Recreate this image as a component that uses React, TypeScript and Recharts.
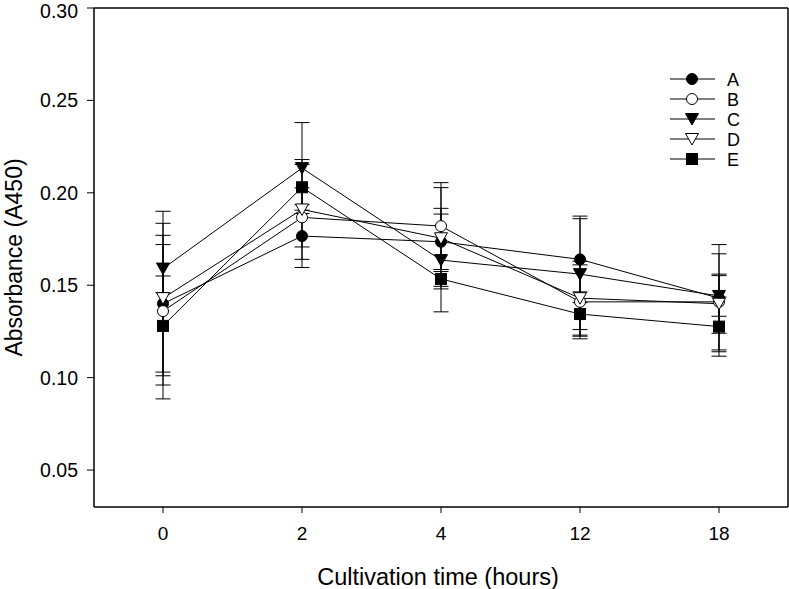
import React from 'react';
import { LineChart, Line, XAxis, YAxis, ErrorBar, Label } from 'recharts';

const times = ['0', '2', '4', '12', '18'];
const seriesA = [0.140, 0.1766, 0.1735, 0.164, 0.143];
const seriesB = [0.136, 0.1867, 0.182, 0.141, 0.141];
const seriesC = [0.159, 0.2134, 0.1636, 0.156, 0.1442];
const seriesD = [0.143, 0.191, 0.1754, 0.143, 0.140];
const seriesE = [0.128, 0.203, 0.1534, 0.1344, 0.1276];
const errA = [0.037, 0.017, 0.015, 0.0234, 0.029];
const errB = [0.0475, 0.016, 0.0235, 0.020, 0.026];
const errC = [0.013, 0.0246, 0.028, 0.030, 0.011];
const errD = [0.047, 0.027, 0.0274, 0.020, 0.016];
const errE = [0.027, 0.0124, 0.004, 0.012, 0.016];
const yTicks = [0.05, 0.10, 0.15, 0.20, 0.25, 0.30];

const seriesNames = ['A', 'B', 'C', 'D', 'E'];
const shapes: Record<string, string> = {
  A: 'circleFilled',
  B: 'circleOpen',
  C: 'triFilled',
  D: 'triOpen',
  E: 'squareFilled',
};

const data = times.map((t, i) => ({
  time: t,
  A: seriesA[i], errA: errA[i],
  B: seriesB[i], errB: errB[i],
  C: seriesC[i], errC: errC[i],
  D: seriesD[i], errD: errD[i],
  E: seriesE[i], errE: errE[i],
}));

const FONT = '"Liberation Sans", Arial, sans-serif';

function Marker({ shape, cx, cy }: { shape: string; cx: number; cy: number }) {
  if (cx == null || cy == null) return null;
  switch (shape) {
    case 'circleFilled':
      return <circle cx={cx} cy={cy} r={5.5} fill="#000" stroke="#000" strokeWidth={1} />;
    case 'circleOpen':
      return <circle cx={cx} cy={cy} r={5.5} fill="#fff" stroke="#000" strokeWidth={1} />;
    case 'triFilled':
      return (
        <polygon
          points={`${cx - 6.5},${cy - 5.5} ${cx + 6.5},${cy - 5.5} ${cx},${cy + 6}`}
          fill="#000" stroke="#000" strokeWidth={1}
        />
      );
    case 'triOpen':
      return (
        <polygon
          points={`${cx - 6.5},${cy - 5.5} ${cx + 6.5},${cy - 5.5} ${cx},${cy + 6}`}
          fill="#fff" stroke="#000" strokeWidth={1}
        />
      );
    default:
      return <rect x={cx - 5.5} y={cy - 5.5} width={11} height={11} fill="#000" stroke="#000" strokeWidth={1} />;
  }
}

function LegendBox() {
  return (
    <svg width={80} height={110} style={{ position: 'absolute', left: 670, top: 71, overflow: 'visible' }}>
      {seriesNames.map((n, i) => {
        const y = 8 + i * 20;
        return (
          <g key={n}>
            <line x1={0} x2={45} y1={y} y2={y} stroke="#000" strokeWidth={1} />
            <Marker shape={shapes[n]} cx={22} cy={y} />
            <text x={57} y={y + 6.5} fontSize={18} fontFamily={FONT} fill="#000">{n}</text>
          </g>
        );
      })}
    </svg>
  );
}

export default function App() {
  return (
    <div style={{ position: 'absolute', left: 0, top: 0, width: 789, height: 589, background: '#fff' }}>
      <LineChart
        width={789}
        height={589}
        data={data}
        margin={{ top: 7, right: 0, bottom: 0, left: 0 }}
        style={{ fontFamily: FONT }}
      >
        <XAxis
          dataKey="time"
          type="category"
          padding={{ left: 69, right: 69 }}
          height={82}
          tickSize={6}
          tickMargin={14}
          axisLine={{ stroke: '#000', strokeWidth: 1.5 }}
          tickLine={{ stroke: '#000', strokeWidth: 1 }}
          tick={{ fill: '#000', fontSize: 19, fontFamily: FONT }}
          interval={0}
        >
          <Label value="Cultivation time (hours)" position="insideBottom" offset={4} dx={-3}
            style={{ fontSize: 23.5, fill: '#000', fontFamily: FONT }} />
        </XAxis>
        <XAxis
          xAxisId="top"
          orientation="top"
          dataKey="time"
          height={1}
          tick={false}
          tickLine={false}
          axisLine={{ stroke: '#000', strokeWidth: 1.5 }}
        />
        <YAxis
          type="number"
          domain={[0.03, 0.3]}
          ticks={yTicks}
          allowDataOverflow
          width={94}
          tickSize={7}
          tickMargin={9}
          tickFormatter={(v: number) => v.toFixed(2)}
          axisLine={{ stroke: '#000', strokeWidth: 1.5 }}
          tickLine={{ stroke: '#000', strokeWidth: 1 }}
          tick={{ fill: '#000', fontSize: 19.5, fontFamily: FONT }}
        >
          <Label
            content={(props: any) => {
              const vb = props.viewBox || { x: 0, y: 8, width: 94, height: 499 };
              const cx = vb.x + 22;
              const cy = vb.y + vb.height / 2;
              return (
                <text x={cx} y={cy} transform={`rotate(-90, ${cx}, ${cy})`} textAnchor="middle"
                  fontSize={23} fontFamily={FONT} fill="#000">
                  Absorbance (A450)
                </text>
              );
            }}
          />
        </YAxis>
        <YAxis
          yAxisId="right"
          orientation="right"
          type="number"
          domain={[0.03, 0.3]}
          width={1}
          tick={false}
          tickLine={false}
          axisLine={{ stroke: '#000', strokeWidth: 1.5 }}
        />
        {seriesNames.map((n) => (
          <Line
            key={n}
            dataKey={n}
            stroke="#000"
            strokeWidth={1}
            isAnimationActive={false}
            legendType="none"
            dot={(p: any) => <Marker key={`${n}-${p.index}`} shape={shapes[n]} cx={p.cx} cy={p.cy} />}
            activeDot={false}
          >
            <ErrorBar dataKey={`err${n}`} width={7.5} stroke="#000" strokeWidth={1} direction="y" isAnimationActive={false} />
          </Line>
        ))}
      </LineChart>
      <LegendBox />
    </div>
  );
}
